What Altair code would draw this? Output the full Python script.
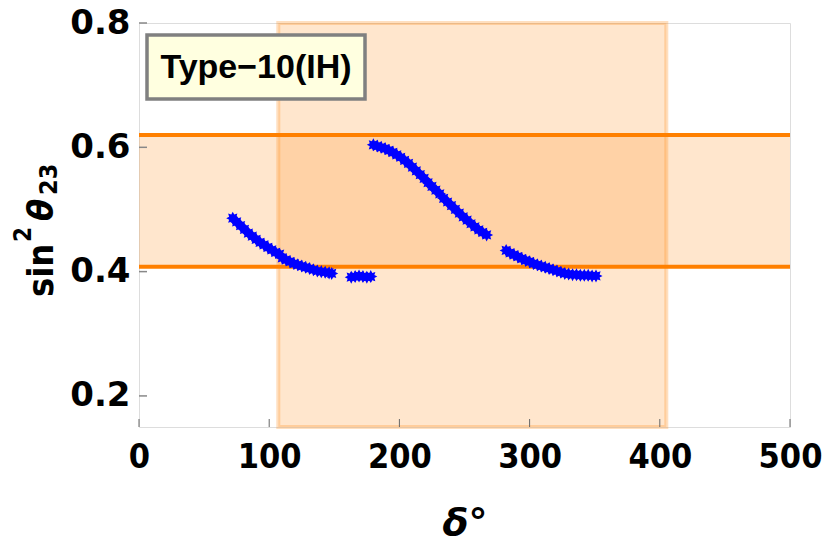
import altair as alt
import pandas as pd

# ---- data ----
seg1_delta = [72, 75, 78, 81, 84, 87, 90, 93, 96, 99, 102, 105, 108, 110, 113, 116, 119,
              122, 125, 128, 131, 134, 137, 140, 143, 146, 148]
seg1_s23 = [0.486, 0.480, 0.474, 0.468, 0.462, 0.457, 0.452, 0.447, 0.443, 0.439, 0.435,
            0.431, 0.428, 0.422, 0.419, 0.416, 0.413, 0.411, 0.409, 0.407, 0.405, 0.403,
            0.401, 0.400, 0.399, 0.398, 0.397]
seg2_delta = [163, 166, 169, 172, 175, 178]
seg2_s23 = [0.391, 0.392, 0.393, 0.392, 0.391, 0.392]
seg3_delta = [180, 183, 186, 189, 192, 195, 198, 201, 204, 207, 210, 213, 216, 219, 222,
              225, 228, 231, 234, 237, 240, 243, 246, 249, 252, 255, 258, 261, 264, 267]
seg3_s23 = [0.604, 0.602, 0.600, 0.598, 0.595, 0.592, 0.588, 0.584, 0.579, 0.574, 0.568,
            0.562, 0.556, 0.550, 0.543, 0.537, 0.531, 0.525, 0.518, 0.512, 0.506, 0.500,
            0.494, 0.488, 0.483, 0.477, 0.472, 0.467, 0.463, 0.459]
seg4_delta = [282, 285, 288, 291, 294, 297, 300, 303, 306, 309, 312, 315, 318, 321, 324,
              327, 330, 333, 336, 339, 342, 345, 348, 351]
seg4_s23 = [0.434, 0.430, 0.427, 0.424, 0.421, 0.418, 0.416, 0.413, 0.411, 0.409, 0.407,
            0.405, 0.403, 0.401, 0.399, 0.397, 0.396, 0.395, 0.395, 0.394, 0.394, 0.394,
            0.393, 0.393]

delta_band = [107, 405]          # allowed delta range (vertical band)
s23_band = [0.408, 0.62]         # allowed sin^2 theta23 range (horizontal lines)
x_domain = [0, 500]
y_domain = [0.15, 0.8]
x_ticks = [0, 100, 200, 300, 400, 500]
y_ticks = [0.2, 0.4, 0.6, 0.8]
label_text = "Type\u221210(IH)"
y_title_parts = ["sin", "2", "\u03b8", "23"]

W, H = 651, 404

STAR = ("M0,-1L0.23,-0.554L0.707,-0.707L0.554,-0.23L1,0L0.554,0.23L0.707,0.707"
        "L0.23,0.554L0,1L-0.23,0.554L-0.707,0.707L-0.554,0.23L-1,0L-0.554,-0.23"
        "L-0.707,-0.707L-0.23,-0.554Z")

pts = pd.DataFrame({
    "delta": seg1_delta + seg2_delta + seg3_delta + seg4_delta,
    "s23": seg1_s23 + seg2_s23 + seg3_s23 + seg4_s23,
})

xs = alt.Scale(domain=x_domain, nice=False, zero=False)
ys = alt.Scale(domain=y_domain, nice=False, zero=False)

x_axis = alt.Axis(values=x_ticks, format="d", grid=False, ticks=False, domain=False,
                  orient="bottom",
                  labelFont="DejaVu Sans Condensed", labelFontWeight="bold", labelFontSize=34,
                  labelColor="black", labelPadding=13, labelFlush=False,
                  title="\u03b4\u00b0", titleFont="DejaVu Sans", titleFontStyle="italic",
                  titleFontWeight="bold", titleFontSize=38, titleColor="black",
                  titleX=W / 2, titleY=96, titleBaseline="middle")
y_axis = alt.Axis(values=y_ticks, format=".1f", grid=False, ticks=False, domain=False,
                  orient="left",
                  labelFont="DejaVu Sans", labelFontWeight="bold", labelFontSize=34,
                  labelColor="black", labelPadding=9, labelFlush=False, title=None)

vband = alt.Chart(pd.DataFrame({"x": [delta_band[0]], "x2": [delta_band[1]],
                                "y": [y_domain[0]], "y2": [y_domain[1]]})).mark_rect(
    fill="#FF8C1A", fillOpacity=0.22, stroke="#FF8C1A", strokeOpacity=0.28, strokeWidth=4
).encode(x=alt.X("x:Q", scale=xs, axis=x_axis), x2="x2", y=alt.Y("y:Q", scale=ys, axis=y_axis), y2="y2")

hband = alt.Chart(pd.DataFrame({"x": [x_domain[0]], "x2": [x_domain[1]],
                                "y": [s23_band[0]], "y2": [s23_band[1]]})).mark_rect(
    fill="#FF8C1A", fillOpacity=0.22
).encode(x=alt.X("x:Q", scale=xs), x2="x2", y=alt.Y("y:Q", scale=ys), y2="y2")

hlines = alt.Chart(pd.DataFrame({"y": s23_band})).mark_rule(
    color="#FF8000", strokeWidth=4
).encode(y=alt.Y("y:Q", scale=ys))

xt = alt.Chart(pd.DataFrame({"x": x_ticks})).mark_rule(color="#666666", strokeWidth=1).encode(
    x=alt.X("x:Q", scale=xs), y=alt.value(H), y2=alt.value(H - 8))
yt = alt.Chart(pd.DataFrame({"y": y_ticks})).mark_rule(color="#888888", strokeWidth=1.5).encode(
    y=alt.Y("y:Q", scale=ys), x=alt.value(0), x2=alt.value(8))

points = alt.Chart(pts).mark_point(shape=STAR, filled=True, color="#0000FF", size=170,
                                   opacity=1).encode(
    x=alt.X("delta:Q", scale=xs), y=alt.Y("s23:Q", scale=ys))

box = alt.Chart(pd.DataFrame({"t": [label_text]})).mark_rect(
    fill="#FFFFE0", stroke="#808080", strokeWidth=3.5
).encode(x=alt.value(8), x2=alt.value(226), y=alt.value(12), y2=alt.value(76))

txt = alt.Chart(pd.DataFrame({"t": [label_text]})).mark_text(
    font="Liberation Sans", fontWeight="bold", fontSize=34, color="black",
    align="center", baseline="middle"
).encode(x=alt.value(117), y=alt.value(45), text="t:N")

# rotated y-axis title built from pieces (sin, superscript 2, theta, subscript 23)
def title_piece(text, x, y, size, style="normal"):
    return alt.Chart(pd.DataFrame({"t": [text]})).mark_text(
        font="DejaVu Sans Condensed", fontWeight="bold", fontSize=size, fontStyle=style,
        color="black", angle=270, align="left", baseline="alphabetic"
    ).encode(x=alt.value(x), y=alt.value(y), text="t:N")

yt1 = title_piece(y_title_parts[0], -86, 274, 36)
yt2 = title_piece(y_title_parts[1], -108, 219, 24)
yt3 = title_piece(y_title_parts[2], -86, 198, 36, "italic")
yt4 = title_piece(y_title_parts[3], -82, 172, 25)

chart = alt.layer(vband, hband, hlines, xt, yt, points, box, txt,
                  yt1, yt2, yt3, yt4).properties(
    width=W, height=H,
    autosize=alt.AutoSizeParams(type="none"),
    padding={"left": 131, "top": 15, "right": 32, "bottom": 116},
).configure_view(stroke="#555555", strokeWidth=1.2).configure(background="white")

chart.save("out.html", embed_options={"renderer": "svg", "actions": False})
